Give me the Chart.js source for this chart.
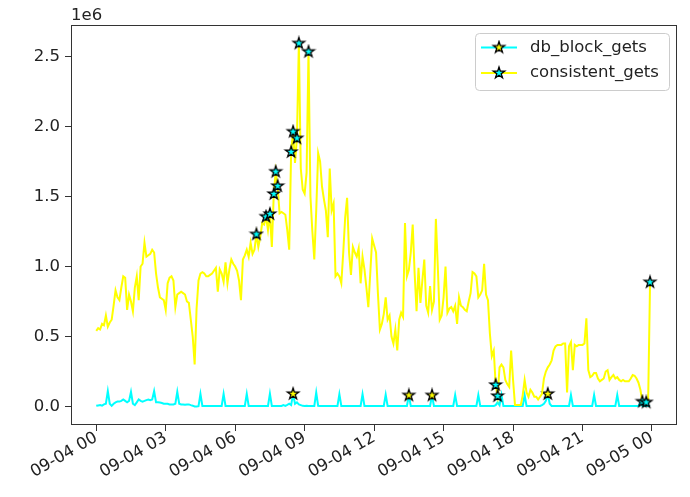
<!DOCTYPE html>
<html>
<head>
<meta charset="utf-8">
<script src="https://cdn.jsdelivr.net/npm/chart.js@4/dist/chart.umd.min.js"></script>
<style>
  html, body { margin: 0; padding: 0; background: #fff; }
</style>
</head>
<body>
<canvas id="chart" width="690" height="497"></canvas>
<script>
// one sample every 5 minutes over 2019-09-04, values in units of 1e6
const stepMinutes = 5;
const sampleCount = 288;

const dbBlockGets = [
  0.005, 0.008, 0.010, 0.006, 0.015, 0.020, 0.110, 0.020, 0.005, 0.020, 0.030, 0.035, // 00h
  0.035, 0.040, 0.050, 0.040, 0.030, 0.040, 0.105, 0.020, 0.010, 0.030, 0.050, 0.040, // 01h
  0.035, 0.040, 0.046, 0.050, 0.045, 0.050, 0.110, 0.030, 0.030, 0.028, 0.025, 0.020, // 02h
  0.020, 0.020, 0.015, 0.015, 0.015, 0.020, 0.105, 0.020, 0.015, 0.015, 0.012, 0.015, // 03h
  0.015, 0.010, 0.006, 0.000, 0.000, 0.002, 0.090, 0.004, 0.003, 0.003, 0.003, 0.004, // 04h
  0.003, 0.003, 0.004, 0.003, 0.003, 0.004, 0.090, 0.004, 0.003, 0.003, 0.004, 0.003, // 05h
  0.003, 0.003, 0.004, 0.003, 0.003, 0.004, 0.090, 0.004, 0.003, 0.003, 0.004, 0.003, // 06h
  0.003, 0.003, 0.004, 0.003, 0.003, 0.004, 0.092, 0.004, 0.003, 0.003, 0.004, 0.003, // 07h
  0.004, 0.010, 0.005, 0.012, 0.020, 0.010, 0.090, 0.020, 0.030, 0.015, 0.010, 0.005, // 08h
  0.004, 0.005, 0.004, 0.003, 0.003, 0.004, 0.100, 0.005, 0.004, 0.003, 0.003, 0.003, // 09h
  0.003, 0.003, 0.004, 0.003, 0.003, 0.004, 0.088, 0.004, 0.003, 0.003, 0.004, 0.003, // 10h
  0.003, 0.003, 0.004, 0.003, 0.003, 0.004, 0.088, 0.004, 0.003, 0.003, 0.004, 0.003, // 11h
  0.003, 0.003, 0.004, 0.003, 0.003, 0.004, 0.085, 0.004, 0.003, 0.003, 0.004, 0.003, // 12h
  0.003, 0.003, 0.004, 0.003, 0.003, 0.004, 0.080, 0.004, 0.003, 0.003, 0.004, 0.003, // 13h
  0.003, 0.003, 0.004, 0.003, 0.003, 0.004, 0.080, 0.004, 0.003, 0.003, 0.004, 0.003, // 14h
  0.003, 0.003, 0.004, 0.003, 0.003, 0.004, 0.082, 0.004, 0.003, 0.003, 0.004, 0.003, // 15h
  0.003, 0.003, 0.004, 0.003, 0.003, 0.004, 0.082, 0.004, 0.003, 0.003, 0.004, 0.003, // 16h
  0.003, 0.003, 0.004, 0.010, 0.030, 0.010, 0.082, 0.004, 0.003, 0.003, 0.004, 0.003, // 17h
  0.003, 0.003, 0.004, 0.003, 0.003, 0.004, 0.082, 0.004, 0.003, 0.003, 0.004, 0.003, // 18h
  0.003, 0.003, 0.004, 0.010, 0.020, 0.040, 0.090, 0.020, 0.003, 0.003, 0.004, 0.003, // 19h
  0.003, 0.003, 0.004, 0.003, 0.003, 0.004, 0.082, 0.004, 0.003, 0.003, 0.004, 0.003, // 20h
  0.003, 0.003, 0.004, 0.003, 0.003, 0.004, 0.082, 0.004, 0.003, 0.003, 0.004, 0.003, // 21h
  0.003, 0.003, 0.004, 0.003, 0.003, 0.004, 0.082, 0.004, 0.003, 0.003, 0.004, 0.003, // 22h
  0.003, 0.003, 0.004, 0.003, 0.003, 0.004, 0.030, 0.004, 0.003, 0.003, 0.004, 0.003  // 23h
];

const consistentGets = [
  0.54, 0.56, 0.55, 0.59, 0.58, 0.65, 0.57, 0.60, 0.62, 0.72, 0.83, 0.78, // 00h
  0.76, 0.85, 0.93, 0.92, 0.69, 0.80, 0.75, 0.68, 0.85, 0.93, 0.76, 1.00, // 01h
  1.02, 1.17, 1.07, 1.08, 1.09, 1.12, 1.10, 0.95, 0.85, 0.78, 0.77, 0.76, // 02h
  0.69, 0.88, 0.92, 0.93, 0.90, 0.71, 0.80, 0.81, 0.82, 0.81, 0.80, 0.75, // 03h
  0.74, 0.62, 0.50, 0.30, 0.70, 0.90, 0.95, 0.96, 0.95, 0.93, 0.93, 0.94, // 04h
  0.95, 0.97, 0.99, 0.82, 0.98, 0.95, 0.89, 1.03, 0.88, 0.98, 1.05, 1.02, // 05h
  1.00, 0.97, 0.90, 0.76, 1.05, 1.08, 1.12, 1.07, 1.17, 1.09, 1.12, 1.23, // 06h
  1.14, 1.21, 1.31, 1.30, 1.356, 1.26, 1.375, 1.14, 1.518, 1.677, 1.575, 1.38, // 07h
  1.39, 1.38, 1.37, 1.26, 1.12, 1.818, 1.963, 1.74, 1.916, 2.594, 1.70, 1.55, // 08h
  1.52, 1.67, 2.534, 1.50, 1.25, 1.05, 1.40, 1.81, 1.75, 1.57, 1.48, 1.40, // 09h
  1.21, 1.70, 1.40, 1.45, 0.93, 0.95, 0.93, 0.88, 1.10, 1.35, 1.49, 1.10, // 10h
  0.94, 1.14, 1.10, 1.07, 1.13, 0.88, 1.07, 0.98, 0.85, 0.71, 0.95, 1.20, // 11h
  1.15, 1.10, 0.80, 0.55, 0.59, 0.66, 0.78, 0.62, 0.65, 0.50, 0.45, 0.55, // 12h
  0.40, 0.62, 0.67, 0.64, 1.31, 0.93, 0.975, 1.10, 1.30, 0.95, 0.68, 0.99, // 13h
  0.74, 0.90, 1.05, 0.72, 0.67, 0.86, 0.69, 0.75, 1.34, 1.00, 0.62, 0.65, // 14h
  0.78, 1.00, 0.67, 0.70, 0.71, 0.68, 0.72, 0.59, 0.78, 0.72, 0.71, 0.69, // 15h
  0.68, 0.75, 0.81, 0.96, 0.95, 0.93, 0.78, 0.80, 0.83, 1.02, 0.80, 0.76, // 16h
  0.52, 0.36, 0.40, 0.154, 0.075, 0.28, 0.30, 0.28, 0.19, 0.16, 0.14, 0.40, // 17h
  0.19, 0.01, 0.01, 0.01, 0.01, 0.08, 0.19, 0.10, 0.07, 0.12, 0.10, 0.07, // 18h
  0.07, 0.05, 0.07, 0.09, 0.20, 0.25, 0.28, 0.30, 0.33, 0.40, 0.43, 0.44, // 19h
  0.44, 0.44, 0.45, 0.45, 0.10, 0.43, 0.46, 0.26, 0.44, 0.43, 0.44, 0.44, // 20h
  0.44, 0.45, 0.63, 0.26, 0.21, 0.22, 0.24, 0.24, 0.20, 0.18, 0.19, 0.20, // 21h
  0.25, 0.26, 0.19, 0.21, 0.225, 0.20, 0.21, 0.19, 0.18, 0.19, 0.18, 0.18, // 22h
  0.18, 0.20, 0.225, 0.22, 0.20, 0.17, 0.12, 0.035, 0.03, 0.03, 0.03, 0.888  // 23h
];

// sample numbers flagged as anomalies (star markers)
const dbBlockAnomalies = [102, 162, 174, 234];
const consistentAnomalies = [83, 88, 90, 92, 93, 94, 101, 102, 104, 105, 110, 207, 208, 283, 285, 287];

const yTicks = [0, 0.5, 1.0, 1.5, 2.0, 2.5];
const offsetText = '1e6';

const hours = [];
for (let i = 0; i < sampleCount; i++) hours.push(i * stepMinutes / 60);

function points(values) {
  return values.map((v, i) => ({ x: hours[i], y: v }));
}
function radii(flags) {
  return hours.map((h, i) => flags.includes(i) ? 6 : 0);
}

function starImage(fill) {
  const c = document.createElement('canvas');
  c.width = 16; c.height = 16;
  const g = c.getContext('2d');
  g.beginPath();
  for (let k = 0; k < 10; k++) {
    const r = k % 2 ? 2.3 : 6;
    const a = -Math.PI / 2 + k * Math.PI / 5;
    g.lineTo(8 + r * Math.cos(a), 8 + r * Math.sin(a));
  }
  g.closePath();
  g.fillStyle = fill;
  g.fill();
  g.lineWidth = 1.3;
  g.strokeStyle = '#000';
  g.stroke();
  return c;
}

const FONT = { family: 'DejaVu Sans', size: 16.5 };
const TEXT = '#222';

const frameAndLegend = {
  id: 'frameAndLegend',
  afterDraw(chart) {
    const { ctx, chartArea: a } = chart;
    ctx.save();
    ctx.strokeStyle = '#333';
    ctx.lineWidth = 1;
    ctx.strokeRect(a.left + 0.5, a.top + 0.5, a.right - a.left - 1, a.bottom - a.top - 1);

    ctx.fillStyle = TEXT;
    ctx.font = FONT.size + 'px "' + FONT.family + '"';
    ctx.textAlign = 'left';
    ctx.textBaseline = 'alphabetic';
    ctx.fillText(offsetText, a.left, 20);

    // legend box, upper right
    const bx = a.right - 202, by = a.top + 8, bw = 194, bh = 57;
    ctx.beginPath();
    ctx.roundRect(bx + 0.5, by + 0.5, bw, bh, 4);
    ctx.fillStyle = 'rgba(255,255,255,0.8)';
    ctx.fill();
    ctx.strokeStyle = '#cccccc';
    ctx.stroke();
    chart.data.datasets.forEach((ds, i) => {
      const y = by + 14.5 + i * 25.5;
      ctx.beginPath();
      ctx.moveTo(bx + 6, y);
      ctx.lineTo(bx + 42, y);
      ctx.strokeStyle = ds.borderColor;
      ctx.lineWidth = 2;
      ctx.stroke();
      ctx.drawImage(ds.pointStyle, bx + 24 - 8, y - 8);
      ctx.fillStyle = TEXT;
      ctx.textBaseline = 'middle';
      ctx.fillText(ds.label, bx + 55, y);
    });
    ctx.restore();
  }
};

new Chart(document.getElementById('chart'), {
  type: 'line',
  data: {
    datasets: [{
      label: 'db_block_gets',
      data: points(dbBlockGets),
      borderColor: '#00ffff',
      borderWidth: 2,
      pointStyle: starImage('#ffff00'),
      pointRadius: radii(dbBlockAnomalies),
      order: 2
    }, {
      label: 'consistent_gets',
      data: points(consistentGets),
      borderColor: '#ffff00',
      borderWidth: 2,
      pointStyle: starImage('#00ffff'),
      pointRadius: radii(consistentAnomalies),
      order: 1
    }]
  },
  options: {
    responsive: false,
    animation: false,
    events: [],
    layout: { padding: { top: 25, right: 13, left: 0, bottom: 0 } },
    elements: { line: { tension: 0 } },
    plugins: { legend: { display: false }, tooltip: { enabled: false } },
    scales: {
      x: {
        type: 'linear',
        min: -1.09,
        max: 25.08,
        border: { display: false },
        grid: { drawOnChartArea: false, tickLength: 6, tickColor: '#333' },
        ticks: {
          stepSize: 3,
          includeBounds: false,
          autoSkip: false,
          maxRotation: 30,
          minRotation: 30,
          padding: -3,
          color: TEXT,
          font: FONT,
          callback: v => {
            const day = 4 + Math.floor(v / 24);
            const hh = String(v % 24).padStart(2, '0');
            return '09-0' + day + ' ' + hh;
          }
        },
        afterFit: s => { s.height = 72; }
      },
      y: {
        min: -0.132,
        max: 2.725,
        border: { display: false },
        grid: { drawOnChartArea: false, tickLength: 6, tickColor: '#333' },
        afterBuildTicks: s => { s.ticks = yTicks.map(v => ({ value: v })); },
        ticks: {
          padding: 5,
          color: TEXT,
          font: FONT,
          callback: v => v.toFixed(1)
        },
        afterFit: s => { s.width = 71; }
      }
    }
  },
  plugins: [frameAndLegend]
});
</script>
</body>
</html>
